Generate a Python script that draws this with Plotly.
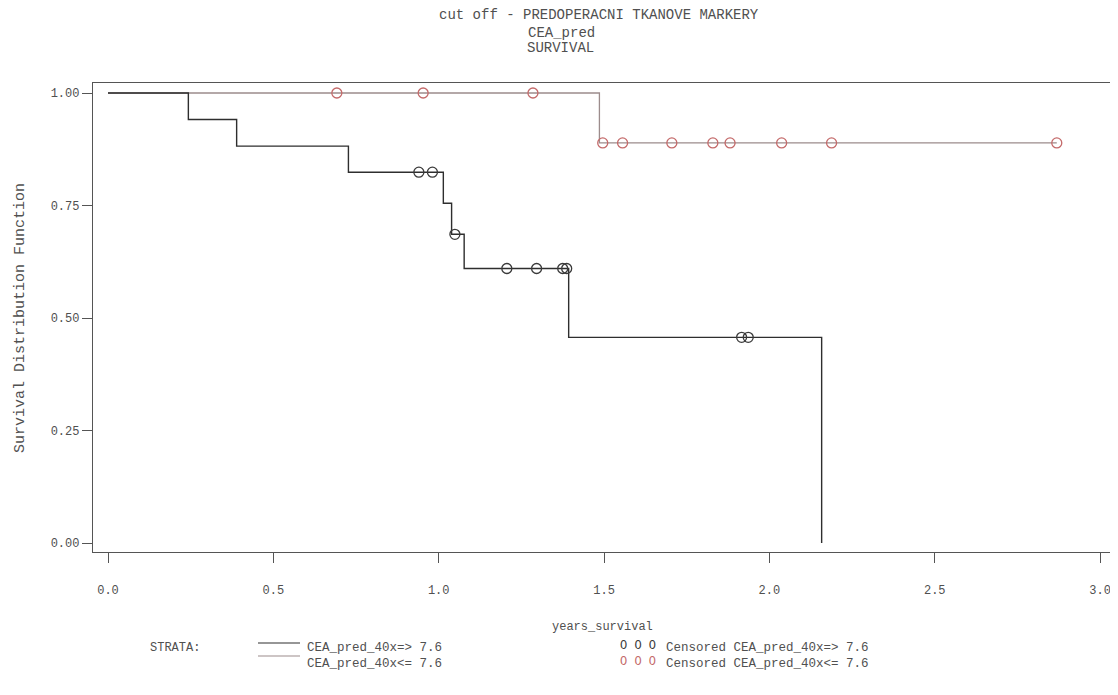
import plotly.graph_objects as go

# ---- data ----
high_times = [0.0, 0.243, 0.389, 0.727, 1.014, 1.039, 1.077, 1.393, 2.158]
high_surv = [1.0, 0.941, 0.882, 0.824, 0.755, 0.686, 0.610, 0.457, 0.0]
high_cens_t = [0.940, 0.981, 1.049, 1.206, 1.296, 1.375, 1.387, 1.916, 1.936]
high_cens_s = [0.824, 0.824, 0.686, 0.610, 0.610, 0.610, 0.610, 0.457, 0.457]

low_times = [0.0, 1.486, 2.869]
low_surv = [1.0, 0.889, 0.889]
low_cens_t = [0.692, 0.953, 1.285, 1.496, 1.556, 1.705, 1.829, 1.881, 2.037, 2.188, 2.869]
low_cens_s = [1.0, 1.0, 1.0, 0.889, 0.889, 0.889, 0.889, 0.889, 0.889, 0.889, 0.889]

x_ticks = [0.0, 0.5, 1.0, 1.5, 2.0, 2.5, 3.0]
x_tick_labels = ["0.0", "0.5", "1.0", "1.5", "2.0", "2.5", "3.0"]
y_ticks = [0.0, 0.25, 0.5, 0.75, 1.0]
y_tick_labels = ["0.00", "0.25", "0.50", "0.75", "1.00"]

title_lines = ["cut off - PREDOPERACNI TKANOVE MARKERY", "CEA_pred", "SURVIVAL"]
strata_names = ["CEA_pred_40x=> 7.6", "CEA_pred_40x<= 7.6"]
cens_names = ["Censored CEA_pred_40x=> 7.6", "Censored CEA_pred_40x<= 7.6"]

FONT = "Liberation Mono"
TXT = "#505050"
BLACK_LINE = "#2e2e2e"
RED_LINE = "#9c8c8c"
RED_MARK = "#c46a6a"
BLACK_MARK = "#3a3a3a"

# page body has an 8px margin -> figure is shifted by 8px
OFF = 8
W, H = 1118 - OFF, 695 - OFF
# plot frame in page (target) pixels
L, R, T, B = 93, 1112, 83, 552

fig = go.Figure()

fig.add_trace(go.Scatter(x=low_times, y=low_surv, mode="lines", line=dict(shape="hv", color=RED_LINE, width=1.3),
                         showlegend=False, hoverinfo="skip"))
fig.add_trace(go.Scatter(x=high_times, y=high_surv, mode="lines", line=dict(shape="hv", color=BLACK_LINE, width=1.4),
                         showlegend=False, hoverinfo="skip"))
fig.add_trace(go.Scatter(x=low_cens_t, y=low_cens_s, mode="markers",
                         marker=dict(symbol="circle-open", size=10, color=RED_MARK, line=dict(width=1.3)),
                         showlegend=False))
fig.add_trace(go.Scatter(x=high_cens_t, y=high_cens_s, mode="markers",
                         marker=dict(symbol="circle-open", size=10, color=BLACK_MARK, line=dict(width=1.3)),
                         showlegend=False))


def fx(X):
    return (X - L) / (R - L)


def fy(Y):
    return (B - Y) / (B - T)


annotations = []
title_pos = [(599, 15), (561, 33), (560, 48)]
for txt, (xx, yy) in zip(title_lines, title_pos):
    annotations.append(dict(text=txt, x=fx(xx), y=fy(yy), xref="paper", yref="paper", showarrow=False,
                            xanchor="center", yanchor="middle", font=dict(family=FONT, size=14, color=TXT)))
annotations.append(dict(text="years_survival", x=fx(602), y=fy(627), xref="paper", yref="paper", showarrow=False,
                        xanchor="center", yanchor="middle", font=dict(family=FONT, size=12, color=TXT)))
annotations.append(dict(text="Survival Distribution Function", x=fx(20), y=fy(318), xref="paper", yref="paper",
                        showarrow=False, textangle=-90, xanchor="center", yanchor="middle",
                        font=dict(family=FONT, size=15, color=TXT)))
annotations.append(dict(text="STRATA:", x=fx(148), y=fy(648), xref="paper", yref="paper", showarrow=False,
                        xanchor="left", yanchor="middle", font=dict(family=FONT, size=12, color=TXT)))
for i, (nm, cn, mc) in enumerate(zip(strata_names, cens_names, [BLACK_MARK, RED_MARK])):
    yy = 648 + i * 16
    annotations.append(dict(text=nm, x=fx(305), y=fy(yy), xref="paper", yref="paper", showarrow=False,
                            xanchor="left", yanchor="middle", font=dict(family=FONT, size=12.5, color=TXT)))
    annotations.append(dict(text="O O O", x=fx(618), y=fy(yy - 2), xref="paper", yref="paper", showarrow=False,
                            xanchor="left", yanchor="middle", font=dict(family=FONT, size=12, color=mc)))
    annotations.append(dict(text=cn, x=fx(664), y=fy(yy), xref="paper", yref="paper", showarrow=False,
                            xanchor="left", yanchor="middle", font=dict(family=FONT, size=12.5, color=TXT)))

shapes = []
for i, col in enumerate([BLACK_LINE, RED_LINE]):
    yy = 643 + i * 13
    shapes.append(dict(type="line", xref="paper", yref="paper", x0=fx(258), x1=fx(300), y0=fy(yy), y1=fy(yy),
                       line=dict(color=col, width=1.2)))

x0 = (L - 108) / 330.7
x1 = (R - 108) / 330.7
y1 = 1 + (93 - T) / 450
y0 = -(B - 543) / 450

fig.update_layout(
    width=W, height=H,
    margin=dict(l=L - OFF, r=W - (R - OFF), t=T - OFF, b=H - (B - OFF), autoexpand=False),
    paper_bgcolor="white", plot_bgcolor="white",
    font=dict(family=FONT, color=TXT, size=11),
    xaxis=dict(range=[x0, x1], tickvals=x_ticks, ticktext=x_tick_labels, ticks="outside", ticklen=10,
               tickcolor="#555", tickwidth=1.3, showgrid=False, zeroline=False, showline=True, linecolor="#555",
               linewidth=1.3, mirror=True, ticklabelstandoff=16, tickfont=dict(family=FONT, size=12, color=TXT)),
    yaxis=dict(range=[y0, y1], tickvals=y_ticks, ticktext=y_tick_labels, ticks="outside", ticklen=10,
               tickcolor="#555", tickwidth=1.3, showgrid=False, zeroline=False, showline=True, linecolor="#555",
               linewidth=1.3, mirror=True, tickfont=dict(family=FONT, size=12, color=TXT)),
    annotations=annotations,
    shapes=shapes,
    showlegend=False,
)

fig.write_html("out.html")
